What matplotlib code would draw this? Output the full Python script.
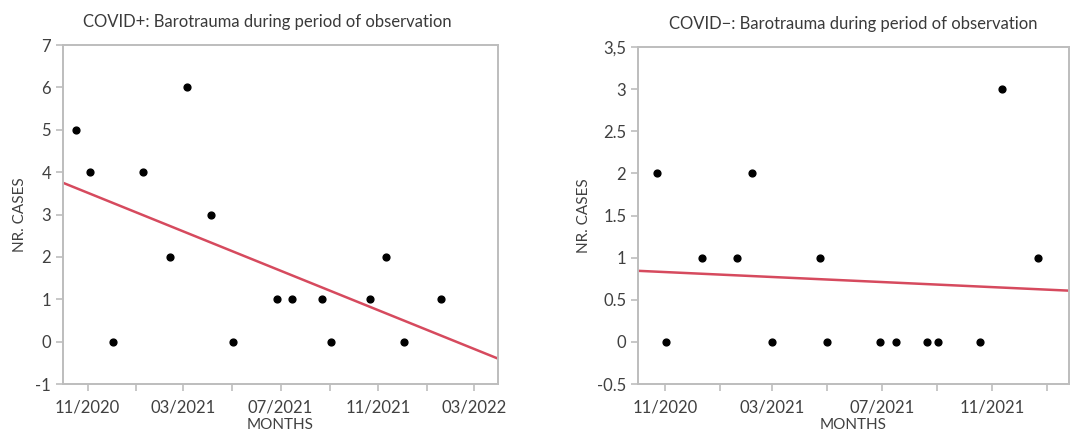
import numpy as np
import matplotlib.pyplot as plt
import matplotlib.dates as mdates
from matplotlib.ticker import FixedLocator, FixedFormatter, FuncFormatter

plt.rcParams['font.family'] = ['Lato', 'DejaVu Sans']

# COVID+ data (approx. dates)
pos_dates = np.array(['2020-10-17', '2020-11-04', '2020-12-03', '2021-01-09',
                      '2021-02-12', '2021-03-06', '2021-04-05', '2021-05-02',
                      '2021-06-27', '2021-07-16', '2021-08-22', '2021-09-03',
                      '2021-10-21', '2021-11-10', '2021-12-03', '2022-01-18'],
                     dtype='datetime64[D]')
pos_cases = [5, 4, 0, 4, 2, 6, 3, 0, 1, 1, 1, 0, 1, 2, 0, 1]

# COVID- data
neg_dates = np.array(['2020-10-23', '2020-11-02', '2020-12-12', '2021-01-20',
                      '2021-02-06', '2021-03-01', '2021-04-23', '2021-05-01',
                      '2021-06-29', '2021-07-17', '2021-08-21', '2021-09-02',
                      '2021-10-19', '2021-11-12', '2021-12-22'],
                     dtype='datetime64[D]')
neg_cases = [2, 0, 1, 1, 2, 0, 1, 0, 0, 0, 0, 0, 0, 3, 1]

pos_yticks = [-1, 0, 1, 2, 3, 4, 5, 6, 7]
pos_ylabels = ['-1', '0', '1', '2', '3', '4', '5', '6', '7']
neg_yticks = [-0.5, 0, 0.5, 1, 1.5, 2, 2.5, 3, 3.5]
neg_ylabels = ['-0.5', '0', '0.5', '1', '1.5', '2', '2.5', '3', '3,5']

spine_c = '#bdbdbd'
text_c = '#404040'
red = '#d64a5e'

fig = plt.figure(figsize=(10.70, 4.34), dpi=100)
ax1 = fig.add_axes([0.0589, 0.1152, 0.4065, 0.7811])
ax2 = fig.add_axes([0.5963, 0.1152, 0.4028, 0.7765])


def month_label(x, pos):
    d = mdates.num2date(x)
    if d.month in (3, 7, 11):
        return d.strftime('%m/%Y')
    return ''


def style(ax, dates, cases, xlim, yticks, ylabels, title, title_x, ypad):
    xs = mdates.date2num(dates.astype('datetime64[s]').astype(object))
    ax.scatter(xs, cases, s=24, color='black', zorder=3)
    # linear trend
    k, b = np.polyfit(xs, cases, 1)
    lo, hi = mdates.date2num(np.datetime64(xlim[0]).astype(object)), mdates.date2num(np.datetime64(xlim[1]).astype(object))
    ax.plot([lo, hi], [k * lo + b, k * hi + b], color=red, lw=1.8, zorder=2)
    ax.set_xlim(lo, hi)
    ax.set_ylim(yticks[0], yticks[-1])
    ax.yaxis.set_major_locator(FixedLocator(yticks))
    ax.yaxis.set_major_formatter(FixedFormatter(ylabels))
    ax.xaxis.set_major_locator(mdates.MonthLocator(bymonth=[1, 3, 5, 7, 9, 11]))
    ax.xaxis.set_major_formatter(FuncFormatter(month_label))
    for s in ax.spines.values():
        s.set_color(spine_c)
        s.set_linewidth(1.4)
    ax.tick_params(colors=spine_c, labelcolor=text_c, labelsize=12,
                   length=5, width=1.2)
    ax.tick_params(axis='x', pad=6)
    ax.set_title(title, fontsize=12, color='#3a3a3a', pad=13, x=title_x)
    ax.set_xlabel('MONTHS', fontsize=11, color=text_c, labelpad=2)
    ax.set_ylabel('NR. CASES', fontsize=11, color=text_c, labelpad=ypad)


style(ax1, pos_dates, pos_cases, ('2020-10-01', '2022-03-31'),
      pos_yticks, pos_ylabels, 'COVID+: Barotrauma during period of observation',
      0.47, 6)
style(ax2, neg_dates, neg_cases, ('2020-10-02', '2022-01-26'),
      neg_yticks, neg_ylabels, 'COVID\u2212: Barotrauma during period of observation',
      0.5, 4)

fig.savefig('out.png', dpi=100)
